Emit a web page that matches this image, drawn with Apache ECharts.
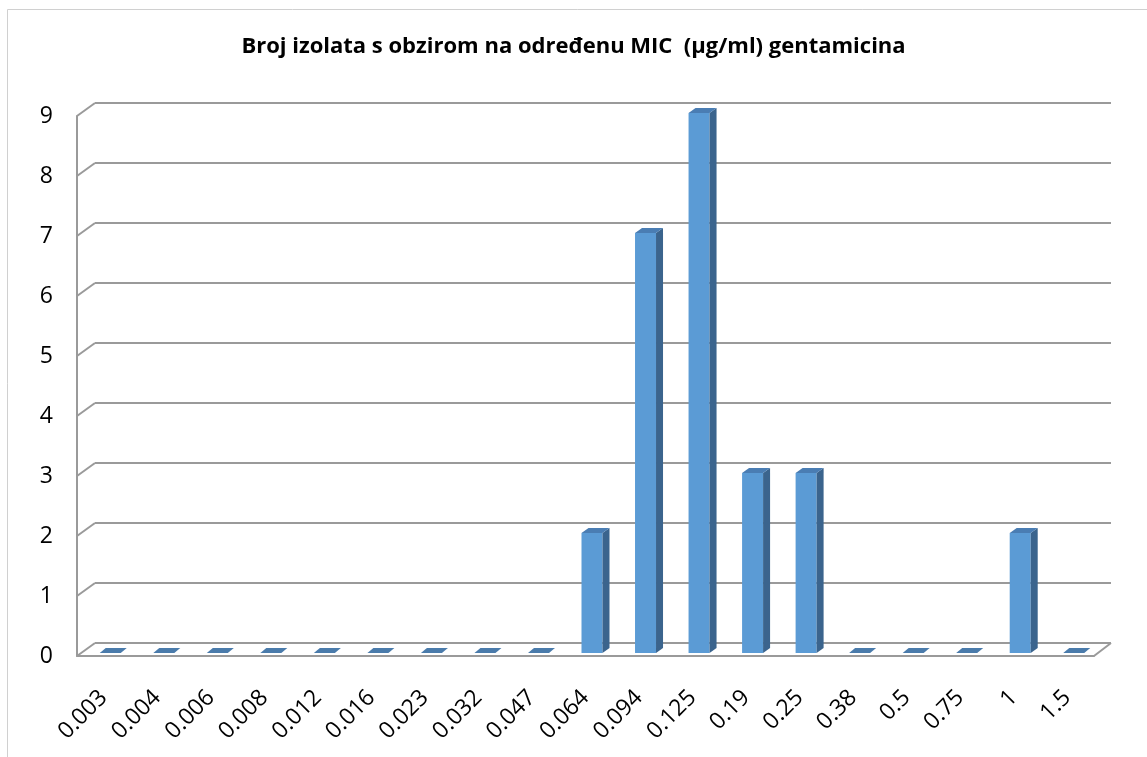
<!DOCTYPE html>
<html>
<head>
<meta charset="utf-8">
<script src="https://cdn.jsdelivr.net/npm/echarts@6/dist/echarts.min.js"></script>
<style>
  html, body { margin: 0; padding: 0; background: #fff; }
  #chart { width: 1147px; height: 757px; }
</style>
</head>
<body>
<div id="chart"></div>
<script>
var categories = ['0.003', '0.004', '0.006', '0.008', '0.012', '0.016', '0.023', '0.032', '0.047',
  '0.064', '0.094', '0.125', '0.19', '0.25', '0.38', '0.5', '0.75', '1', '1.5'];
var counts = [0, 0, 0, 0, 0, 0, 0, 0, 0, 2, 7, 9, 3, 3, 0, 0, 0, 2, 0];
var yTicks = [0, 1, 2, 3, 4, 5, 6, 7, 8, 9];
var titleText = 'Broj izolata s obzirom na određenu MIC  (µg/ml) gentamicina';

var FONT = 'Open Sans';
var GRID_COLOR = '#9a9a9a';
// depth offset of the back wall relative to the front plane
var WALL_DX = 18, WALL_DY = -13;

function renderBar(params, api) {
  var i = api.value(0), v = api.value(1);
  var base = api.coord([i, 0]);
  var top = api.coord([i, v]);
  var w = 21, dx = 7, dy = -5;
  var x0 = base[0] + 6.5 - w / 2, x1 = x0 + w;
  var yb = base[1] - 3, yt = top[1] - 3;
  if (v === 0) {
    return {
      type: 'polygon',
      shape: { points: [[x0, yb], [x1, yb], [x1 + 6, yb + dy], [x0 + 6, yb + dy]] },
      style: { fill: '#4a7bab' }
    };
  }
  return {
    type: 'group',
    children: [
      { type: 'rect', shape: { x: x0, y: yt, width: w, height: yb - yt }, style: { fill: '#5b9bd5' } },
      { type: 'polygon', shape: { points: [[x1, yt], [x1 + dx, yt + dy], [x1 + dx, yb + dy], [x1, yb]] },
        style: { fill: '#3b648d' } },
      { type: 'polygon', shape: { points: [[x0, yt], [x1, yt], [x1 + dx, yt + dy], [x0 + dx, yt + dy]] },
        style: { fill: '#4a7db3' } }
    ]
  };
}

function renderWallEdges(params, api) {
  var t = api.value(0);
  var cs = params.coordSys;
  var y = api.coord([0, t])[1];
  var kids = [{
    type: 'line',
    shape: { x1: cs.x, y1: y, x2: cs.x + WALL_DX, y2: y + WALL_DY },
    style: { stroke: GRID_COLOR, lineWidth: 2 }
  }];
  if (t === 0) {
    var xr = cs.x + cs.width;
    kids.push({
      type: 'line',
      shape: { x1: xr, y1: y, x2: xr + 17, y2: y + WALL_DY },
      style: { stroke: GRID_COLOR, lineWidth: 2 }
    });
  }
  return { type: 'group', children: kids };
}

var chart = echarts.init(document.getElementById('chart'));
chart.setOption({
  animation: false,
  backgroundColor: '#fff',
  title: {
    text: titleText,
    left: 'center',
    top: 31,
    textStyle: { fontFamily: FONT, fontSize: 22, fontWeight: 'bold', color: '#000' }
  },
  graphic: [
    { type: 'line', shape: { x1: 7.5, y1: 9.5, x2: 1147, y2: 9.5 }, style: { stroke: '#d0d0d0', lineWidth: 1 } },
    { type: 'line', shape: { x1: 7.5, y1: 9.5, x2: 7.5, y2: 757 }, style: { stroke: '#d0d0d0', lineWidth: 1 } }
  ],
  grid: [
    // back wall
    { left: 95, right: 36, top: 103, bottom: 114 },
    // front plane
    { left: 77, right: 53, top: 116, bottom: 101 }
  ],
  xAxis: [
    { gridIndex: 0, type: 'category', data: categories, show: false },
    {
      gridIndex: 1, type: 'category', data: categories,
      axisLine: { show: true, lineStyle: { color: GRID_COLOR, width: 2 } },
      axisTick: { show: false },
      axisLabel: { rotate: 45, margin: 38, fontFamily: FONT, fontSize: 23, color: '#000', interval: 0 }
    }
  ],
  yAxis: [
    {
      gridIndex: 0, type: 'value', min: 0, max: 9, interval: 1,
      axisLine: { show: false }, axisTick: { show: false }, axisLabel: { show: false },
      splitLine: { show: true, lineStyle: { color: GRID_COLOR, width: 2 } }
    },
    {
      gridIndex: 1, type: 'value', min: 0, max: 9, interval: 1,
      axisLine: { show: true, lineStyle: { color: GRID_COLOR, width: 2 } },
      axisTick: { show: false },
      splitLine: { show: false },
      axisLabel: { margin: 24, fontFamily: FONT, fontSize: 23, color: '#000' }
    }
  ],
  series: [
    {
      type: 'custom', xAxisIndex: 1, yAxisIndex: 1,
      renderItem: renderWallEdges,
      data: yTicks.map(function (t) { return [t]; }),
      z: 1, silent: true
    },
    {
      type: 'custom', xAxisIndex: 1, yAxisIndex: 1,
      renderItem: renderBar,
      data: counts.map(function (v, i) { return [i, v]; }),
      z: 5
    }
  ]
});
</script>
</body>
</html>
